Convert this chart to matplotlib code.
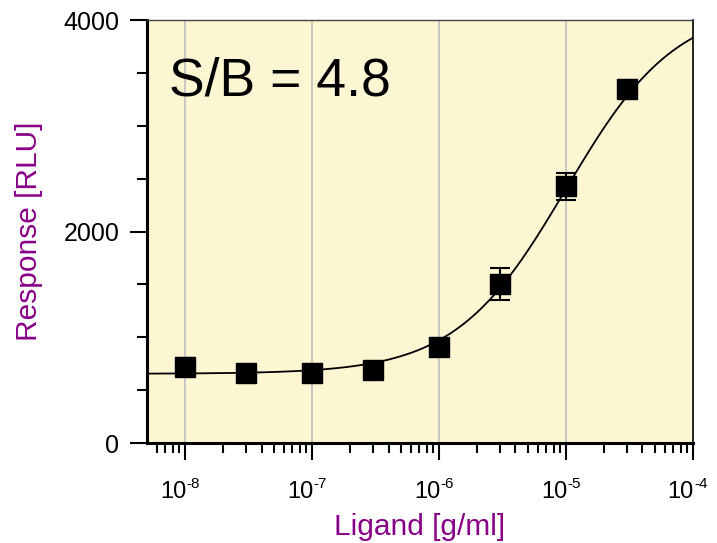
import numpy as np
import matplotlib
matplotlib.use("Agg")
import matplotlib.pyplot as plt
from matplotlib.ticker import LogLocator, MultipleLocator, NullFormatter

plt.rcParams['font.family'] = ['Liberation Sans', 'DejaVu Sans']

# Measured data
conc = [1e-8, 3e-8, 1e-7, 3e-7, 1e-6, 3e-6, 1e-5, 3e-5]
response = [719, 665, 659, 690, 911, 1503, 2430, 3345]
err = [85, 70, 70, 80, 70, 154, 128, 85]

# 4PL fit parameters
bottom, top, ec50, hill = 655, 4150, 1e-5, 1.0

xtick_vals = [1e-8, 1e-7, 1e-6, 1e-5, 1e-4]
xtick_exps = ['-8', '-7', '-6', '-5', '-4']
ytick_vals = [0, 2000, 4000]

purple = '#880088'

fig = plt.figure(figsize=(7.17, 5.43), dpi=100)
ax = fig.add_axes([0.205, 0.184, 0.7615, 0.779])
ax.set_facecolor('#FCF6D3')

ax.set_xscale('log')
ax.set_xlim(10 ** -8.3, 1e-4)
ax.set_ylim(0, 4000)

# grid at decades
for xv in xtick_vals[:-1]:
    ax.axvline(xv, color='#c4c4c4', lw=1.3, zorder=1)

# fitted curve
xfit = np.logspace(-8.3, -4, 300)
yfit = bottom + (top - bottom) / (1 + (ec50 / xfit) ** hill)
ax.plot(xfit, yfit, color='black', lw=1.3, zorder=2)

ax.errorbar(conc, response, yerr=err, fmt='s', color='black', ms=14,
            capsize=7, elinewidth=1.5, capthick=1.5, zorder=3)

ax.set_xticks(xtick_vals)
ax.set_xticklabels([''] * len(xtick_vals))
ax.xaxis.set_minor_locator(LogLocator(base=10, subs=np.arange(2, 10)))
ax.xaxis.set_minor_formatter(NullFormatter())
ax.set_yticks(ytick_vals)
ax.set_yticklabels([str(v) for v in ytick_vals], fontsize=18)
ax.yaxis.set_minor_locator(MultipleLocator(500))

ax.tick_params(which='major', direction='out', length=12, width=1.5)
ax.tick_params(which='minor', direction='out', length=7.5, width=1.5)
ax.tick_params(axis='y', which='major', pad=8)

# decade labels: "10" with a small hyphen exponent
for xv, ex in zip(xtick_vals, xtick_exps):
    ax.annotate('10', xy=(xv, 0), xycoords=('data', 'axes fraction'),
                xytext=(1, -55), textcoords='offset pixels',
                ha='right', va='baseline', fontsize=17, annotation_clip=False)
    ax.annotate(ex, xy=(xv, 0), xycoords=('data', 'axes fraction'),
                xytext=(1, -45), textcoords='offset pixels',
                ha='left', va='baseline', fontsize=11, annotation_clip=False)

for side in ['left', 'bottom']:
    ax.spines[side].set_linewidth(2.2)
ax.spines['top'].set_linewidth(1.0)
ax.spines['top'].set_color('#444444')
ax.spines['right'].set_linewidth(1.2)

ax.set_xlabel('Ligand [g/ml]', fontsize=21.5, color=purple)
ax.xaxis.label.set_va('baseline')
ax.xaxis.set_label_coords(0.5, -(535 - 443) / 423)
ax.set_ylabel('Response [RLU]', fontsize=21.5, color=purple)
ax.yaxis.set_label_coords(-0.19, 0.5)

ax.text(0.04, (443 - 95) / 423, 'S/B = 4.8', transform=ax.transAxes,
        fontsize=38.5, ha='left', va='baseline')

fig.savefig('out.png', dpi=100)
